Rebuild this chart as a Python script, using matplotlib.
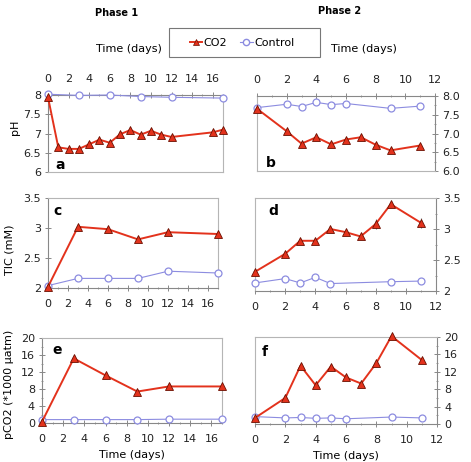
"""Phase 1 / Phase 2 time courses: pH, TIC and pCO2 for CO2 vs Control."""
import matplotlib
matplotlib.use("Agg")
import matplotlib.pyplot as plt
from matplotlib.lines import Line2D
from matplotlib.patches import Rectangle
from matplotlib.ticker import MultipleLocator

W, H = 471, 462
RED = "#e3321c"
RED_EDGE = "#6a0f00"
BLUE = "#8c8ce0"
SPINE = "#b5b5b5"

plt.rcParams.update({"font.family": "DejaVu Sans", "font.size": 8})

# ---- Phase 1 data ----
p1_ph_co2_t = [0, 1, 2, 3, 4, 5, 6, 7, 8, 9, 10, 11, 12, 16, 17]
p1_ph_co2 = [7.94, 6.64, 6.6, 6.6, 6.72, 6.84, 6.76, 6.98, 7.09, 6.97, 7.07, 6.97, 6.91, 7.03, 7.1]
p1_ctl_t = [0, 3, 6, 9, 12, 17]
p1_ph_ctl = [8.02, 7.99, 8.0, 7.96, 7.94, 7.92]
p1_co2_t = [0, 3, 6, 9, 12, 17]
p1_tic_co2 = [2.02, 3.02, 2.98, 2.81, 2.93, 2.9]
p1_tic_ctl = [2.04, 2.16, 2.16, 2.16, 2.28, 2.25]
p1_pco2_co2 = [0.3, 15.2, 11.2, 7.4, 8.6, 8.6]
p1_pco2_ctl = [0.8, 0.8, 0.8, 0.8, 0.9, 0.9]

# ---- Phase 2 data ----
p2_co2_t = [0, 2, 3, 4, 5, 6, 7, 8, 9, 11]
p2_ctl_t = [0, 2, 3, 4, 5, 6, 9, 11]
p2_ph_co2 = [7.66, 7.06, 6.73, 6.9, 6.71, 6.84, 6.9, 6.7, 6.55, 6.68]
p2_ph_ctl = [7.69, 7.78, 7.72, 7.83, 7.77, 7.8, 7.67, 7.73]
p2_tic_co2 = [2.31, 2.6, 2.81, 2.81, 3.0, 2.95, 2.88, 3.08, 3.4, 3.1]
p2_tic_co2_err = [0.02, 0.05, 0.03, 0.03, 0.03, 0.03, 0.03, 0.08, 0.03, 0.08]
p2_tic_ctl = [2.13, 2.2, 2.13, 2.22, 2.12, None, 2.15, 2.16]
p2_pco2_co2 = [1.4, 6.0, 13.4, 8.9, 13.2, 10.7, 9.3, 14.0, 20.2, 14.7]
p2_pco2_ctl = [1.7, 1.4, 1.5, 1.3, 1.4, 1.2, 1.6, 1.4]

fig = plt.figure(figsize=(W / 100, H / 100), dpi=100)


def ax_at(l, t, r, b):
    return fig.add_axes([l / W, 1 - b / H, (r - l) / W, (b - t) / H])


def draw(ax, tc, yc, tk, yk, err=None):
    pts = [(x, y) for x, y in zip(tk, yk) if y is not None]
    ax.plot([p[0] for p in pts], [p[1] for p in pts], "-o", color=BLUE, lw=0.8,
            ms=5, mfc="white", mec=BLUE, mew=0.9, clip_on=False, zorder=3)
    if err is not None:
        ax.errorbar(tc, yc, yerr=err, fmt="none", ecolor="#777", elinewidth=0.8,
                    capsize=0, zorder=3)
    ax.plot(tc, yc, "-^", color=RED, lw=1.4, ms=5.5, mfc=RED, mec=RED_EDGE,
            mew=0.6, clip_on=False, zorder=4)


def style(ax, xmax, ylim, ystep, yminor, side, xtop, yfmt=None):
    ax.set_xlim(0, xmax)
    ax.set_ylim(*ylim)
    ax.xaxis.set_major_locator(MultipleLocator(2))
    ax.xaxis.set_minor_locator(MultipleLocator(1))
    ax.yaxis.set_major_locator(MultipleLocator(ystep))
    ax.yaxis.set_minor_locator(MultipleLocator(yminor))
    for s in ax.spines.values():
        s.set_color(SPINE)
        s.set_linewidth(0.8)
    if xtop:
        ax.xaxis.tick_top()
        ax.spines["top"].set_color("#888")
    else:
        ax.spines["bottom"].set_color("#888")
    if side == "right":
        ax.yaxis.tick_right()
        ax.spines["right"].set_color("#888")
    else:
        ax.spines["left"].set_color("#888")
    ax.tick_params(which="major", length=4, width=0.7, color="#888",
                   direction="inout", labelsize=8, labelcolor="#222")
    ax.tick_params(which="minor", length=2, width=0.6, color="#888",
                   direction="inout")
    ax.tick_params(axis="x", which="major", pad=6)
    ax.tick_params(axis="y", which="major", pad=3)
    if yfmt:
        ax.yaxis.set_major_formatter(yfmt)


def plain(v, pos):
    return f"{v:g}"


def onedec(v, pos):
    return f"{v:.1f}"


def ylab(x, y, s):
    fig.text(x / W, 1 - y / H, s, rotation=90, ha="center", va="center")


# a / b  (pH)
a = ax_at(48, 95, 223, 172)
draw(a, p1_ph_co2_t, p1_ph_co2, p1_ctl_t, p1_ph_ctl)
style(a, 17, (6, 8), 0.5, 0.5, "left", True, plain)
ylab(15, 127, "pH")

b = ax_at(257, 96, 435, 171)
draw(b, p2_co2_t, p2_ph_co2, p2_ctl_t, p2_ph_ctl)
style(b, 12, (6, 8), 0.5, 0.25, "right", True, onedec)

# c / d  (TIC)
c = ax_at(48, 198, 218, 288)
draw(c, p1_co2_t, p1_tic_co2, p1_ctl_t, p1_tic_ctl)
style(c, 17, (2, 3.5), 0.5, 0.5, "left", False, plain)
ylab(10, 250, "TIC (mM)")

d = ax_at(255, 198, 436, 291)
draw(d, p2_co2_t, p2_tic_co2, p2_ctl_t, p2_tic_ctl, err=p2_tic_co2_err)
style(d, 12, (2, 3.5), 0.5, 0.25, "right", False, plain)

# e / f  (pCO2)
e = ax_at(42, 338, 222, 423)
draw(e, p1_co2_t, p1_pco2_co2, p1_ctl_t, p1_pco2_ctl)
style(e, 17, (0, 20), 4, 2, "left", False, plain)
ylab(9, 384, "pCO2 (*1000 µatm)")
e.set_xlabel("Time (days)", labelpad=4)

f = ax_at(255, 337, 437, 424)
draw(f, p2_co2_t, p2_pco2_co2, p2_ctl_t, p2_pco2_ctl)
style(f, 12, (0, 20), 4, 2, "right", False, plain)
f.set_xlabel("Time (days)", labelpad=4)

# panel letters
for ax, lab, (px, py) in [(a, "a", (55, 165)), (b, "b", (266, 163)),
                          (c, "c", (53, 211)), (d, "d", (268, 211)),
                          (e, "e", (52, 350)), (f, "f", (262, 352))]:
    fig.text(px / W, 1 - py / H, lab, fontsize=10, fontweight="bold",
             ha="left", va="center")

# header texts
fig.text(117 / W, 1 - 13 / H, "Phase 1", fontsize=7, fontweight="bold",
         ha="center", va="center")
fig.text(340 / W, 1 - 11 / H, "Phase 2", fontsize=7, fontweight="bold",
         ha="center", va="center")
fig.text(129 / W, 1 - 49 / H, "Time (days)", ha="center", va="center")
fig.text(364 / W, 1 - 49 / H, "Time (days)", ha="center", va="center")

# legend box
fig.patches.append(Rectangle((169 / W, 1 - 57 / H), 151 / W, 29 / H,
                             transform=fig.transFigure, fill=False,
                             edgecolor="#777", linewidth=0.8))
handles = [Line2D([], [], color=RED, lw=1.4, marker="^", ms=5, mfc=RED, mec=RED_EDGE, mew=0.5),
           Line2D([], [], color=BLUE, lw=0.8, marker="o", ms=4.5, mfc="white", mec=BLUE)]
fig.legend(handles, ["CO2", "Control"], loc="center",
           bbox_to_anchor=(242 / W, 1 - 43 / H), ncol=2,
           frameon=False, handlelength=1.1, handletextpad=0.15,
           columnspacing=1.2, borderaxespad=0, fontsize=8)

fig.savefig("out.png", dpi=100)
